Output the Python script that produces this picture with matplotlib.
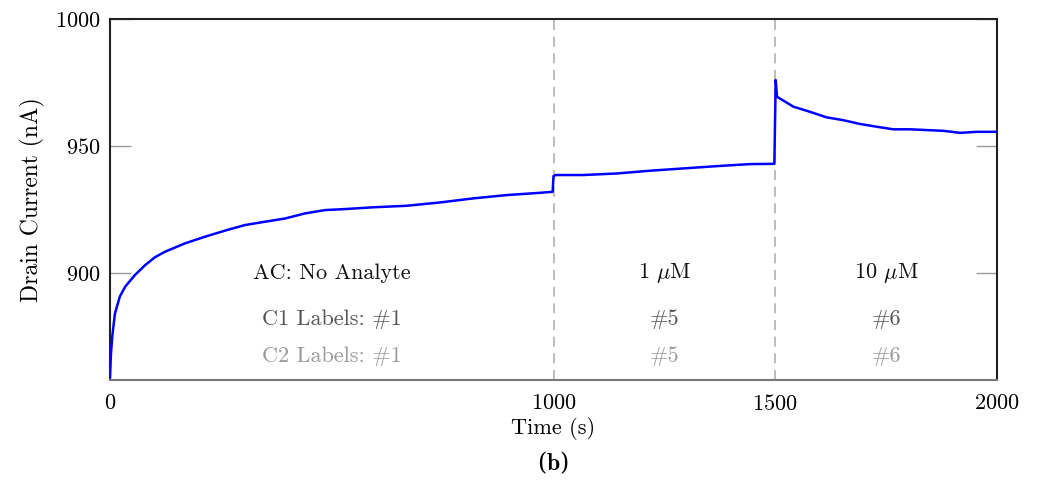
import numpy as np
import matplotlib.pyplot as plt

plt.rcParams['font.family'] = ['cmr10', 'DejaVu Serif']
plt.rcParams['mathtext.fontset'] = 'cm'
plt.rcParams['axes.formatter.use_mathtext'] = True

# Drain current trace (time in s, current in nA)
time_s = [0, 2, 5, 11, 22, 34, 56, 79, 101, 124, 169, 214, 259, 304, 349, 395,
          440, 485, 530, 594, 669, 744, 819, 894, 970, 998,
          1000, 1005, 1067, 1142, 1218, 1293, 1368, 1443, 1498,
          1500, 1501, 1504, 1541, 1578, 1616, 1653, 1691, 1729, 1766, 1804,
          1841, 1879, 1917, 1954, 2000]
current_nA = [859, 868, 875, 884, 890.7, 894.6, 899.2, 903.1, 906.2, 908.4,
              911.7, 914.3, 916.7, 918.9, 920.2, 921.5, 923.5, 924.8, 925.2,
              925.9, 926.5, 927.8, 929.4, 930.7, 931.6, 932.0,
              938.2, 938.6, 938.6, 939.2, 940.3, 941.2, 942.1, 942.9, 943.0,
              965.0, 976.0, 969.4, 965.5, 963.5, 961.3, 960.2, 958.7, 957.6,
              956.6, 956.6, 956.3, 956.0, 955.2, 955.6, 955.6]

step_times = [1000, 1500]
region_centers = [500, 1250, 1750]
ac_labels = ['AC: No Analyte', r'1 $\mu$M', r'10 $\mu$M']
c1_labels = ['C1 Labels: #1', '#5', '#6']
c2_labels = ['C2 Labels: #1', '#5', '#6']

fig = plt.figure(figsize=(10.38, 4.80), dpi=100)
ax = fig.add_axes([0.106, 0.2083, 0.8545, 0.752])

for t in step_times:
    ax.axvline(t, color='#b0b0b0', lw=1.2, dashes=(6, 4), zorder=1)

ax.plot(time_s, current_nA, color='#0000ff', lw=1.8, zorder=3)

fs = 16
for xc, a, c1, c2 in zip(region_centers, ac_labels, c1_labels, c2_labels):
    ax.text(xc, 900, a, ha='center', va='center', fontsize=fs, color='#111111')
    ax.text(xc, 881.8, c1, ha='center', va='center', fontsize=fs, color='#555555')
    ax.text(xc, 867.3, c2, ha='center', va='center', fontsize=fs, color='#999999')

ax.set_xlim(0, 2000)
ax.set_ylim(857.9, 1000)
ax.set_xticks([0, 1000, 1500, 2000])
ax.set_yticks([900, 950, 1000])
ax.tick_params(axis='x', length=0, pad=10, labelsize=fs)
ax.tick_params(axis='y', direction='in', length=15, width=1, color='#999999',
               left=True, right=True, pad=7, labelsize=fs)

for side in ['left', 'top', 'right']:
    ax.spines[side].set_color('#222222')
    ax.spines[side].set_linewidth(1.5)
ax.spines['bottom'].set_color('#777777')
ax.spines['bottom'].set_linewidth(1.5)

ax.set_xlabel('Time (s)', fontsize=fs, labelpad=2)
ax.set_ylabel('Drain Current (nA)', fontsize=17, labelpad=7)

fig.text(0.533, 0.035, r'($\mathbf{b}$)', ha='center', va='center', fontsize=17,
         family=['DejaVu Serif'])

fig.savefig('out.png', dpi=100)
